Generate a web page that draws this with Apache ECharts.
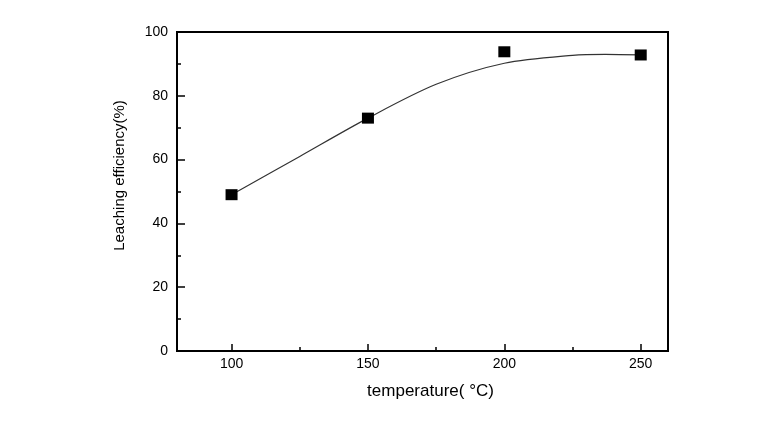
<!DOCTYPE html>
<html>
<head>
<meta charset="utf-8">
<script src="https://cdn.jsdelivr.net/npm/echarts@6/dist/echarts.min.js"></script>
<style>html,body{margin:0;padding:0;background:#fff}#c{width:758px;height:425px}</style>
</head>
<body>
<div id="c"></div>
<script>
const xMin = 80, xMax = 260;
const yMin = 0, yMax = 100, yInterval = 20;
const xMajorTicks = [100, 150, 200, 250];
const xMinorTicks = [125, 175, 225];
const temperature = [100, 150, 200, 250];
const efficiency = [49, 73, 93.8, 92.8];
const fitX = [100, 125, 150, 175, 200, 225, 237, 250];
const fitY = [49, 61, 73, 83.6, 90.2, 92.7, 93.0, 92.8];
const xName = 'temperature( \u00B0C)';
const yName = 'Leaching efficiency(%)';

const font = 'Liberation Sans, Arial, sans-serif';
const chart = echarts.init(document.getElementById('c'));
const gridPos = {left: 177, right: 90, top: 32, bottom: 74};
chart.setOption({
  animation: false,
  backgroundColor: '#fff',
  grid: [
    Object.assign({show: true, borderColor: '#000', borderWidth: 2, backgroundColor: 'transparent'}, gridPos),
    Object.assign({show: false}, gridPos)
  ],
  xAxis: [{
    type: 'value', gridIndex: 0, min: xMin, max: xMax,
    name: xName, nameLocation: 'middle', nameGap: 32,
    nameTextStyle: {color: '#000', fontSize: 17, fontFamily: font, padding: [0, 0, 0, 16]},
    axisLine: {show: true, lineStyle: {color: '#000', width: 2}},
    axisTick: {show: true, inside: true, length: 7, customValues: xMajorTicks, lineStyle: {color: '#000', width: 1.5}},
    axisLabel: {customValues: xMajorTicks, color: '#000', fontSize: 14, fontFamily: font, margin: 6},
    splitLine: {show: false}
  }, {
    type: 'value', gridIndex: 1, min: xMin, max: xMax,
    axisLine: {show: false},
    axisTick: {show: true, inside: true, length: 4, customValues: xMinorTicks, lineStyle: {color: '#000', width: 1.5}},
    axisLabel: {show: false},
    splitLine: {show: false}
  }],
  yAxis: [{
    type: 'value', gridIndex: 0, min: yMin, max: yMax, interval: yInterval,
    name: yName, nameLocation: 'middle', nameGap: 50, nameRotate: 90,
    nameTextStyle: {color: '#000', fontSize: 15, fontFamily: font, padding: [0, 0, 0, 32]},
    axisLine: {show: true, lineStyle: {color: '#000', width: 2}},
    axisTick: {show: true, inside: true, length: 8, lineStyle: {color: '#000', width: 1.5}},
    minorTick: {show: true, splitNumber: 2, length: 4, lineStyle: {color: '#000', width: 1.5}},
    axisLabel: {color: '#000', fontSize: 14, fontFamily: font, margin: 9},
    splitLine: {show: false}
  }, {
    type: 'value', gridIndex: 1, min: yMin, max: yMax, show: false
  }],
  series: [{
    type: 'line', xAxisIndex: 0, yAxisIndex: 0,
    data: fitX.map((x, i) => [x, fitY[i]]),
    smooth: 0.3, showSymbol: false, symbol: 'none',
    lineStyle: {color: '#333', width: 1.2}, z: 2
  }, {
    type: 'scatter', xAxisIndex: 0, yAxisIndex: 0,
    data: temperature.map((x, i) => [x, efficiency[i]]),
    symbol: 'rect', symbolSize: [12, 11],
    itemStyle: {color: '#000', opacity: 1}, z: 3
  }]
});
</script>
</body>
</html>
